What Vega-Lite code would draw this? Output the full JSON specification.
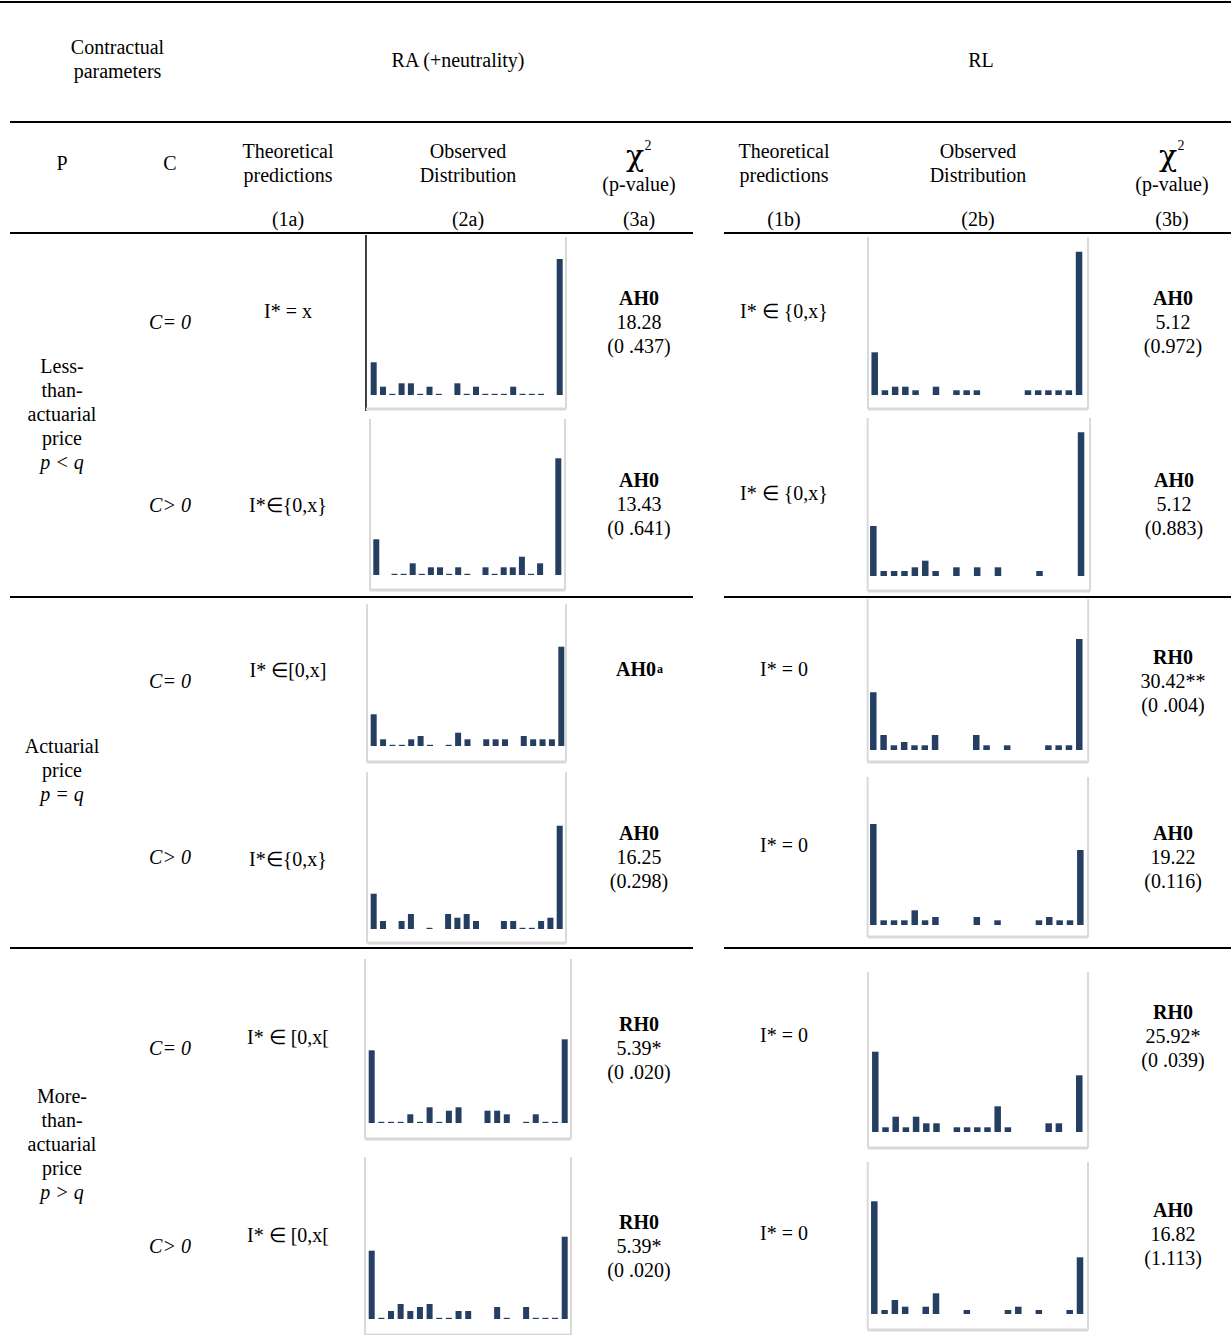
{
"$schema": "https://vega.github.io/schema/vega-lite/v6.json",
"padding": 0,
"autosize": {"type": "pad"},
"background": "white",
"data": {"values": [{}]},
"config": {"view": {"stroke": null}, "concat": {"spacing": 0}, "scale": {"continuousPadding": 0}, "text": {"font": "Liberation Serif", "fontSize": 20, "color": "#000", "baseline": "middle", "align": "center", "lineHeight": 24}},
"spacing": 0,
"vconcat": [
{"width": 1231, "height": 1, "mark": {"type": "text", "text": "", "fontSize": 0}, "encoding": {}},
{"width": 1231, "height": 2, "view": {"fill": "#000"}, "mark": {"type": "text", "text": "", "fontSize": 0}, "encoding": {}},
{"hconcat": [
 {"width": 235, "height": 118, "mark": {"type": "text", "text": ["Contractual", "parameters"], "dy": -14}, "encoding": {}},
 {"width": 446, "height": 118, "mark": {"type": "text", "text": "RA (+neutrality)", "dy": -1}, "encoding": {}},
 {"width": 50, "height": 118, "mark": {"type": "text", "text": "", "fontSize": 0}, "encoding": {}},
 {"width": 500, "height": 118, "mark": {"type": "text", "text": "RL", "dy": -1}, "encoding": {}}
], "spacing": 0},
{"hconcat": [
 {"width": 10, "height": 2, "mark": {"type": "text", "text": "", "fontSize": 0}, "encoding": {}},
 {"width": 1221, "height": 2, "view": {"fill": "#000"}, "mark": {"type": "text", "text": "", "fontSize": 0}, "encoding": {}}
], "spacing": 0},
{"hconcat": [
 {"width": 124, "height": 82, "mark": {"type": "text", "text": "P"}, "encoding": {}},
 {"width": 92, "height": 82, "mark": {"type": "text", "text": "C"}, "encoding": {}},
 {"width": 144, "height": 82, "mark": {"type": "text", "text": ["Theoretical", "predictions"], "dy": -12}, "encoding": {}},
 {"width": 216, "height": 82, "mark": {"type": "text", "text": ["Observed", "Distribution"], "dy": -12}, "encoding": {}},
 {"width": 126, "height": 82, "layer": [
  {"mark": {"type": "text", "text": "χ", "font": "DejaVu Serif", "fontSize": 30, "dx": -4, "dy": -7}, "encoding": {}},
  {"mark": {"type": "text", "text": "2", "fontSize": 14, "dx": 9, "dy": -18}, "encoding": {}},
  {"mark": {"type": "text", "text": "(p-value)", "dy": 21}, "encoding": {}}
 ]},
 {"width": 164, "height": 82, "mark": {"type": "text", "text": ["Theoretical", "predictions"], "dy": -12}, "encoding": {}},
 {"width": 224, "height": 82, "mark": {"type": "text", "text": ["Observed", "Distribution"], "dy": -12}, "encoding": {}},
 {"width": 23, "height": 82, "mark": {"type": "text", "text": "", "fontSize": 0}, "encoding": {}},
 {"width": 118, "height": 82, "layer": [
  {"mark": {"type": "text", "text": "χ", "font": "DejaVu Serif", "fontSize": 30, "dx": -4, "dy": -7}, "encoding": {}},
  {"mark": {"type": "text", "text": "2", "fontSize": 14, "dx": 9, "dy": -18}, "encoding": {}},
  {"mark": {"type": "text", "text": "(p-value)", "dy": 21}, "encoding": {}}
 ]}
], "spacing": 0},
{"hconcat": [
 {"width": 124, "height": 27, "mark": {"type": "text", "text": "", "fontSize": 0}, "encoding": {}},
 {"width": 92, "height": 27, "mark": {"type": "text", "text": "", "fontSize": 0}, "encoding": {}},
 {"width": 144, "height": 27, "mark": {"type": "text", "text": "(1a)", "dy": 1}, "encoding": {}},
 {"width": 216, "height": 27, "mark": {"type": "text", "text": "(2a)", "dy": 1}, "encoding": {}},
 {"width": 126, "height": 27, "mark": {"type": "text", "text": "(3a)", "dy": 1}, "encoding": {}},
 {"width": 164, "height": 27, "mark": {"type": "text", "text": "(1b)", "dy": 1}, "encoding": {}},
 {"width": 224, "height": 27, "mark": {"type": "text", "text": "(2b)", "dy": 1}, "encoding": {}},
 {"width": 23, "height": 27, "mark": {"type": "text", "text": "", "fontSize": 0}, "encoding": {}},
 {"width": 118, "height": 27, "mark": {"type": "text", "text": "(3b)", "dy": 1}, "encoding": {}}
], "spacing": 0},
{"hconcat": [
 {"width": 10, "height": 2, "mark": {"type": "text", "text": "", "fontSize": 0}, "encoding": {}},
 {"width": 683, "height": 2, "view": {"fill": "#000"}, "mark": {"type": "text", "text": "", "fontSize": 0}, "encoding": {}},
 {"width": 31, "height": 2, "mark": {"type": "text", "text": "", "fontSize": 0}, "encoding": {}},
 {"width": 507, "height": 2, "view": {"fill": "#000"}, "mark": {"type": "text", "text": "", "fontSize": 0}, "encoding": {}}
], "spacing": 0},
{"hconcat": [
 {"width": 124, "height": 361, "layer": [
  {"mark": {"type": "text", "text": ["Less-", "than-", "actuarial", "price"], "dy": -48.5}, "encoding": {}},
  {"mark": {"type": "text", "text": "p < q", "fontStyle": "italic", "dy": 47.5}, "encoding": {}}
 ]},
 {"vconcat": [
  {"hconcat": [
   {"width": 92, "height": 180, "mark": {"type": "text", "text": "C= 0", "fontStyle": "italic", "dy": -2}, "encoding": {}},
   {"width": 144, "height": 180, "mark": {"type": "text", "text": "I* = x", "dy": -13}, "encoding": {}},
   {"width": 216, "height": 180, "layer": [
    {"data": {"values": [{"bin": 0, "freq": 32.7}, {"bin": 1, "freq": 8.3}, {"bin": 2, "freq": 1.2}, {"bin": 3, "freq": 11.7}, {"bin": 4, "freq": 11.7}, {"bin": 5, "freq": 1.2}, {"bin": 6, "freq": 8.3}, {"bin": 7, "freq": 1.2}, {"bin": 9, "freq": 11.7}, {"bin": 10, "freq": 1.2}, {"bin": 11, "freq": 8.3}, {"bin": 12, "freq": 1.2}, {"bin": 13, "freq": 1.2}, {"bin": 14, "freq": 1.2}, {"bin": 15, "freq": 8.3}, {"bin": 16, "freq": 1.2}, {"bin": 17, "freq": 1.2}, {"bin": 18, "freq": 1.2}, {"bin": 20, "freq": 136}]},
     "mark": {"type": "bar", "orient": "vertical", "size": 6, "color": "#243f62"},
     "encoding": {"x": {"field": "bin", "type": "quantitative", "scale": {"domain": [-1.473, 21.753], "nice": false, "padding": 0}, "axis": null}, "y": {"field": "freq", "type": "quantitative", "scale": {"domain": [-20, 160], "nice": false, "padding": 0}, "axis": null}}},
    {"mark": {"type": "rule", "color": "#000", "strokeWidth": 1.5}, "encoding": {"x": {"datum": -0.83, "type": "quantitative"}, "y": {"datum": -16, "type": "quantitative"}, "y2": {"datum": 160}}},
    {"mark": {"type": "rule", "color": "#d9d9d9", "strokeWidth": 2}, "encoding": {"x": {"datum": 20.68, "type": "quantitative"}, "y": {"datum": -14, "type": "quantitative"}, "y2": {"datum": 158}}},
    {"mark": {"type": "rule", "color": "#d9d9d9", "strokeWidth": 3}, "encoding": {"x": {"datum": -0.83, "type": "quantitative"}, "x2": {"datum": 20.68}, "y": {"datum": -14, "type": "quantitative"}}}
   ]},
   {"width": 126, "height": 180, "layer": [
    {"mark": {"type": "text", "text": "AH0", "fontWeight": "bold", "dy": -26}, "encoding": {}},
    {"mark": {"type": "text", "text": "18.28", "dy": -2}, "encoding": {}},
    {"mark": {"type": "text", "text": "(0 .437)", "dy": 22}, "encoding": {}}
   ]},
   {"width": 164, "height": 180, "mark": {"type": "text", "text": "I* ∈ {0,x}", "dy": -13}, "encoding": {}},
   {"width": 224, "height": 180, "layer": [
    {"data": {"values": [{"bin": 0, "freq": 42.7}, {"bin": 1, "freq": 4.7}, {"bin": 2, "freq": 8.3}, {"bin": 3, "freq": 8.3}, {"bin": 4, "freq": 4.7}, {"bin": 6, "freq": 8.3}, {"bin": 8, "freq": 4.7}, {"bin": 9, "freq": 4.7}, {"bin": 10, "freq": 4.7}, {"bin": 15, "freq": 4.7}, {"bin": 16, "freq": 4.7}, {"bin": 17, "freq": 4.7}, {"bin": 18, "freq": 4.7}, {"bin": 19, "freq": 4.7}, {"bin": 20, "freq": 143.3}]},
     "mark": {"type": "bar", "orient": "vertical", "size": 6.5, "color": "#243f62"},
     "encoding": {"x": {"field": "bin", "type": "quantitative", "scale": {"domain": [-0.754, 21.17], "nice": false, "padding": 0}, "axis": null}, "y": {"field": "freq", "type": "quantitative", "scale": {"domain": [-20, 160], "nice": false, "padding": 0}, "axis": null}}},
    {"mark": {"type": "rule", "color": "#d9d9d9", "strokeWidth": 2}, "encoding": {"x": {"datum": -0.656, "type": "quantitative"}, "y": {"datum": -14, "type": "quantitative"}, "y2": {"datum": 158}}},
    {"mark": {"type": "rule", "color": "#d9d9d9", "strokeWidth": 2}, "encoding": {"x": {"datum": 20.88, "type": "quantitative"}, "y": {"datum": -14, "type": "quantitative"}, "y2": {"datum": 158}}},
    {"mark": {"type": "rule", "color": "#d9d9d9", "strokeWidth": 3}, "encoding": {"x": {"datum": -0.656, "type": "quantitative"}, "x2": {"datum": 20.88}, "y": {"datum": -14, "type": "quantitative"}}}
   ]},
   {"width": 23, "height": 180, "mark": {"type": "text", "text": "", "fontSize": 0}, "encoding": {}},
   {"width": 118, "height": 180, "layer": [
    {"mark": {"type": "text", "text": "AH0", "fontWeight": "bold", "dy": -26}, "encoding": {}},
    {"mark": {"type": "text", "text": "5.12", "dy": -2}, "encoding": {}},
    {"mark": {"type": "text", "text": "(0.972)", "dy": 22}, "encoding": {}}
   ]}
  ], "spacing": 0},
  {"hconcat": [
   {"width": 92, "height": 181, "mark": {"type": "text", "text": "C> 0", "fontStyle": "italic", "dy": 0}, "encoding": {}},
   {"width": 144, "height": 181, "mark": {"type": "text", "text": "I*∈{0,x}", "dy": 0}, "encoding": {}},
   {"width": 216, "height": 181, "layer": [
    {"data": {"values": [{"bin": 0, "freq": 35.7}, {"bin": 2, "freq": 1.2}, {"bin": 3, "freq": 1.2}, {"bin": 4, "freq": 11.7}, {"bin": 5, "freq": 1.2}, {"bin": 6, "freq": 7.7}, {"bin": 7, "freq": 7.7}, {"bin": 8, "freq": 1.2}, {"bin": 9, "freq": 7.7}, {"bin": 10, "freq": 1.2}, {"bin": 12, "freq": 7.7}, {"bin": 13, "freq": 1.2}, {"bin": 14, "freq": 7.7}, {"bin": 15, "freq": 7.7}, {"bin": 16, "freq": 18.3}, {"bin": 17, "freq": 1.2}, {"bin": 18, "freq": 11.7}, {"bin": 20, "freq": 116.7}]},
     "mark": {"type": "bar", "orient": "vertical", "size": 6, "color": "#243f62"},
     "encoding": {"x": {"field": "bin", "type": "quantitative", "scale": {"domain": [-1.79, 21.945], "nice": false, "padding": 0}, "axis": null}, "y": {"field": "freq", "type": "quantitative", "scale": {"domain": [-21, 160], "nice": false, "padding": 0}, "axis": null}}},
    {"mark": {"type": "rule", "color": "#d9d9d9", "strokeWidth": 2}, "encoding": {"x": {"datum": -0.69, "type": "quantitative"}, "y": {"datum": -15, "type": "quantitative"}, "y2": {"datum": 156}}},
    {"mark": {"type": "rule", "color": "#d9d9d9", "strokeWidth": 2}, "encoding": {"x": {"datum": 20.74, "type": "quantitative"}, "y": {"datum": -15, "type": "quantitative"}, "y2": {"datum": 156}}},
    {"mark": {"type": "rule", "color": "#d9d9d9", "strokeWidth": 3}, "encoding": {"x": {"datum": -0.69, "type": "quantitative"}, "x2": {"datum": 20.74}, "y": {"datum": -15, "type": "quantitative"}}}
   ]},
   {"width": 126, "height": 181, "layer": [
    {"mark": {"type": "text", "text": "AH0", "fontWeight": "bold", "dy": -24.5}, "encoding": {}},
    {"mark": {"type": "text", "text": "13.43", "dy": -0.5}, "encoding": {}},
    {"mark": {"type": "text", "text": "(0 .641)", "dy": 23.5}, "encoding": {}}
   ]},
   {"width": 164, "height": 181, "mark": {"type": "text", "text": "I* ∈ {0,x}", "dy": -11.5}, "encoding": {}},
   {"width": 224, "height": 181, "layer": [
    {"data": {"values": [{"bin": 0, "freq": 50}, {"bin": 1, "freq": 5}, {"bin": 2, "freq": 5}, {"bin": 3, "freq": 5}, {"bin": 4, "freq": 8.7}, {"bin": 5, "freq": 15.3}, {"bin": 6, "freq": 5}, {"bin": 8, "freq": 8.7}, {"bin": 10, "freq": 8.7}, {"bin": 12, "freq": 8.7}, {"bin": 16, "freq": 5}, {"bin": 20, "freq": 143.7}]},
     "mark": {"type": "bar", "orient": "vertical", "size": 6.5, "color": "#243f62"},
     "encoding": {"x": {"field": "bin", "type": "quantitative", "scale": {"domain": [-0.61, 20.96], "nice": false, "padding": 0}, "axis": null}, "y": {"field": "freq", "type": "quantitative", "scale": {"domain": [-20, 161], "nice": false, "padding": 0}, "axis": null}}},
    {"mark": {"type": "rule", "color": "#d9d9d9", "strokeWidth": 2}, "encoding": {"x": {"datum": -0.55, "type": "quantitative"}, "y": {"datum": -15, "type": "quantitative"}, "y2": {"datum": 158}}},
    {"mark": {"type": "rule", "color": "#d9d9d9", "strokeWidth": 2}, "encoding": {"x": {"datum": 20.87, "type": "quantitative"}, "y": {"datum": -15, "type": "quantitative"}, "y2": {"datum": 158}}},
    {"mark": {"type": "rule", "color": "#d9d9d9", "strokeWidth": 3}, "encoding": {"x": {"datum": -0.55, "type": "quantitative"}, "x2": {"datum": 20.87}, "y": {"datum": -15, "type": "quantitative"}}}
   ]},
   {"width": 23, "height": 181, "mark": {"type": "text", "text": "", "fontSize": 0}, "encoding": {}},
   {"width": 118, "height": 181, "layer": [
    {"mark": {"type": "text", "text": "AH0", "fontWeight": "bold", "dy": -24.5}, "encoding": {}},
    {"mark": {"type": "text", "text": "5.12", "dy": -0.5}, "encoding": {}},
    {"mark": {"type": "text", "text": "(0.883)", "dy": 23.5}, "encoding": {}}
   ]}
  ], "spacing": 0}
 ], "spacing": 0}
], "spacing": 0},
{"hconcat": [
 {"width": 10, "height": 2, "mark": {"type": "text", "text": "", "fontSize": 0}, "encoding": {}},
 {"width": 683, "height": 2, "view": {"fill": "#000"}, "mark": {"type": "text", "text": "", "fontSize": 0}, "encoding": {}},
 {"width": 31, "height": 2, "mark": {"type": "text", "text": "", "fontSize": 0}, "encoding": {}},
 {"width": 507, "height": 2, "view": {"fill": "#000"}, "mark": {"type": "text", "text": "", "fontSize": 0}, "encoding": {}}
], "spacing": 0},
{"hconcat": [
 {"width": 124, "height": 348, "layer": [
  {"mark": {"type": "text", "text": ["Actuarial", "price"], "dy": -25}, "encoding": {}},
  {"mark": {"type": "text", "text": "p = q", "fontStyle": "italic", "dy": 23}, "encoding": {}}
 ]},
 {"vconcat": [
  {"hconcat": [
   {"width": 92, "height": 173, "mark": {"type": "text", "text": "C= 0", "fontStyle": "italic", "dy": -2.5}, "encoding": {}},
   {"width": 144, "height": 173, "mark": {"type": "text", "text": "I* ∈[0,x]", "dy": -13.5}, "encoding": {}},
   {"width": 216, "height": 173, "layer": [
    {"data": {"values": [{"bin": 0, "freq": 31.7}, {"bin": 1, "freq": 6.7}, {"bin": 2, "freq": 1.2}, {"bin": 3, "freq": 1.2}, {"bin": 4, "freq": 6.7}, {"bin": 5, "freq": 10}, {"bin": 6, "freq": 1.2}, {"bin": 8, "freq": 1.2}, {"bin": 9, "freq": 13.3}, {"bin": 10, "freq": 6.7}, {"bin": 12, "freq": 6.7}, {"bin": 13, "freq": 6.7}, {"bin": 14, "freq": 6.7}, {"bin": 16, "freq": 10}, {"bin": 17, "freq": 6.7}, {"bin": 18, "freq": 6.7}, {"bin": 19, "freq": 6.7}, {"bin": 20, "freq": 99.3}]},
     "mark": {"type": "bar", "orient": "vertical", "size": 6, "color": "#243f62"},
     "encoding": {"x": {"field": "bin", "type": "quantitative", "scale": {"domain": [-1.46, 21.567], "nice": false, "padding": 0}, "axis": null}, "y": {"field": "freq", "type": "quantitative", "scale": {"domain": [-25, 148], "nice": false, "padding": 0}, "axis": null}}},
    {"mark": {"type": "rule", "color": "#d9d9d9", "strokeWidth": 2}, "encoding": {"x": {"datum": -0.71, "type": "quantitative"}, "y": {"datum": -16, "type": "quantitative"}, "y2": {"datum": 142}}},
    {"mark": {"type": "rule", "color": "#d9d9d9", "strokeWidth": 2}, "encoding": {"x": {"datum": 20.5, "type": "quantitative"}, "y": {"datum": -16, "type": "quantitative"}, "y2": {"datum": 142}}},
    {"mark": {"type": "rule", "color": "#d9d9d9", "strokeWidth": 3}, "encoding": {"x": {"datum": -0.71, "type": "quantitative"}, "x2": {"datum": 20.5}, "y": {"datum": -16, "type": "quantitative"}}}
   ]},
   {"width": 126, "height": 173, "layer": [
    {"mark": {"type": "text", "text": "AH0", "fontWeight": "bold", "dx": -3, "dy": -14.5}, "encoding": {}},
    {"mark": {"type": "text", "text": "a", "fontWeight": "bold", "fontSize": 12, "dx": 21, "dy": -16}, "encoding": {}}
   ]},
   {"width": 164, "height": 173, "mark": {"type": "text", "text": "I* = 0", "dy": -14.5}, "encoding": {}},
   {"width": 224, "height": 173, "layer": [
    {"data": {"values": [{"bin": 0, "freq": 57.7}, {"bin": 1, "freq": 15}, {"bin": 2, "freq": 4.7}, {"bin": 3, "freq": 8}, {"bin": 4, "freq": 4.7}, {"bin": 5, "freq": 4.7}, {"bin": 6, "freq": 15}, {"bin": 10, "freq": 15}, {"bin": 11, "freq": 4.7}, {"bin": 13, "freq": 4.7}, {"bin": 17, "freq": 4.7}, {"bin": 18, "freq": 4.7}, {"bin": 19, "freq": 4.7}, {"bin": 20, "freq": 111}]},
     "mark": {"type": "bar", "orient": "vertical", "size": 6.5, "color": "#243f62"},
     "encoding": {"x": {"field": "bin", "type": "quantitative", "scale": {"domain": [-0.61, 21.14], "nice": false, "padding": 0}, "axis": null}, "y": {"field": "freq", "type": "quantitative", "scale": {"domain": [-21, 152], "nice": false, "padding": 0}, "axis": null}}},
    {"mark": {"type": "rule", "color": "#d9d9d9", "strokeWidth": 2}, "encoding": {"x": {"datum": -0.55, "type": "quantitative"}, "y": {"datum": -12, "type": "quantitative"}, "y2": {"datum": 151}}},
    {"mark": {"type": "rule", "color": "#d9d9d9", "strokeWidth": 2}, "encoding": {"x": {"datum": 20.87, "type": "quantitative"}, "y": {"datum": -12, "type": "quantitative"}, "y2": {"datum": 151}}},
    {"mark": {"type": "rule", "color": "#d9d9d9", "strokeWidth": 3}, "encoding": {"x": {"datum": -0.55, "type": "quantitative"}, "x2": {"datum": 20.87}, "y": {"datum": -12, "type": "quantitative"}}}
   ]},
   {"width": 23, "height": 173, "mark": {"type": "text", "text": "", "fontSize": 0}, "encoding": {}},
   {"width": 118, "height": 173, "layer": [
    {"mark": {"type": "text", "text": "RH0", "fontWeight": "bold", "dy": -26.5}, "encoding": {}},
    {"mark": {"type": "text", "text": "30.42**", "dy": -2.5}, "encoding": {}},
    {"mark": {"type": "text", "text": "(0 .004)", "dy": 21.5}, "encoding": {}}
   ]}
  ], "spacing": 0},
  {"hconcat": [
   {"width": 92, "height": 175, "mark": {"type": "text", "text": "C> 0", "fontStyle": "italic", "dy": -1.5}, "encoding": {}},
   {"width": 144, "height": 175, "mark": {"type": "text", "text": "I*∈{0,x}", "dy": 0.5}, "encoding": {}},
   {"width": 216, "height": 175, "layer": [
    {"data": {"values": [{"bin": 0, "freq": 35.3}, {"bin": 1, "freq": 8}, {"bin": 3, "freq": 8}, {"bin": 4, "freq": 15}, {"bin": 6, "freq": 1.2}, {"bin": 8, "freq": 15}, {"bin": 9, "freq": 11.3}, {"bin": 10, "freq": 15}, {"bin": 11, "freq": 8}, {"bin": 14, "freq": 8}, {"bin": 15, "freq": 8}, {"bin": 16, "freq": 1.2}, {"bin": 17, "freq": 1.2}, {"bin": 18, "freq": 8}, {"bin": 19, "freq": 11.3}, {"bin": 20, "freq": 103.3}]},
     "mark": {"type": "bar", "orient": "vertical", "size": 6, "color": "#243f62"},
     "encoding": {"x": {"field": "bin", "type": "quantitative", "scale": {"domain": [-1.473, 21.753], "nice": false, "padding": 0}, "axis": null}, "y": {"field": "freq", "type": "quantitative", "scale": {"domain": [-18, 157], "nice": false, "padding": 0}, "axis": null}}},
    {"mark": {"type": "rule", "color": "#d9d9d9", "strokeWidth": 2}, "encoding": {"x": {"datum": -0.72, "type": "quantitative"}, "y": {"datum": -14, "type": "quantitative"}, "y2": {"datum": 157}}},
    {"mark": {"type": "rule", "color": "#d9d9d9", "strokeWidth": 2}, "encoding": {"x": {"datum": 20.68, "type": "quantitative"}, "y": {"datum": -14, "type": "quantitative"}, "y2": {"datum": 157}}},
    {"mark": {"type": "rule", "color": "#d9d9d9", "strokeWidth": 3}, "encoding": {"x": {"datum": -0.72, "type": "quantitative"}, "x2": {"datum": 20.68}, "y": {"datum": -14, "type": "quantitative"}}}
   ]},
   {"width": 126, "height": 175, "layer": [
    {"mark": {"type": "text", "text": "AH0", "fontWeight": "bold", "dy": -25.5}, "encoding": {}},
    {"mark": {"type": "text", "text": "16.25", "dy": -1.5}, "encoding": {}},
    {"mark": {"type": "text", "text": "(0.298)", "dy": 22.5}, "encoding": {}}
   ]},
   {"width": 164, "height": 175, "mark": {"type": "text", "text": "I* = 0", "dy": -13.5}, "encoding": {}},
   {"width": 224, "height": 175, "layer": [
    {"data": {"values": [{"bin": 0, "freq": 101}, {"bin": 1, "freq": 4.7}, {"bin": 2, "freq": 4.7}, {"bin": 3, "freq": 4.7}, {"bin": 4, "freq": 14.7}, {"bin": 5, "freq": 4.7}, {"bin": 6, "freq": 8}, {"bin": 10, "freq": 8}, {"bin": 12, "freq": 4.7}, {"bin": 16, "freq": 4.7}, {"bin": 17, "freq": 8}, {"bin": 18, "freq": 4.7}, {"bin": 19, "freq": 4.7}, {"bin": 20, "freq": 75}]},
     "mark": {"type": "bar", "orient": "vertical", "size": 6.5, "color": "#243f62"},
     "encoding": {"x": {"field": "bin", "type": "quantitative", "scale": {"domain": [-0.61, 21.03], "nice": false, "padding": 0}, "axis": null}, "y": {"field": "freq", "type": "quantitative", "scale": {"domain": [-22, 153], "nice": false, "padding": 0}, "axis": null}}},
    {"mark": {"type": "rule", "color": "#d9d9d9", "strokeWidth": 2}, "encoding": {"x": {"datum": -0.55, "type": "quantitative"}, "y": {"datum": -12, "type": "quantitative"}, "y2": {"datum": 148}}},
    {"mark": {"type": "rule", "color": "#d9d9d9", "strokeWidth": 2}, "encoding": {"x": {"datum": 20.75, "type": "quantitative"}, "y": {"datum": -12, "type": "quantitative"}, "y2": {"datum": 148}}},
    {"mark": {"type": "rule", "color": "#d9d9d9", "strokeWidth": 3}, "encoding": {"x": {"datum": -0.55, "type": "quantitative"}, "x2": {"datum": 20.75}, "y": {"datum": -12, "type": "quantitative"}}}
   ]},
   {"width": 23, "height": 175, "mark": {"type": "text", "text": "", "fontSize": 0}, "encoding": {}},
   {"width": 118, "height": 175, "layer": [
    {"mark": {"type": "text", "text": "AH0", "fontWeight": "bold", "dy": -25.5}, "encoding": {}},
    {"mark": {"type": "text", "text": "19.22", "dy": -1.5}, "encoding": {}},
    {"mark": {"type": "text", "text": "(0.116)", "dy": 22.5}, "encoding": {}}
   ]}
  ], "spacing": 0}
 ], "spacing": 0}
], "spacing": 0},
{"hconcat": [
 {"width": 10, "height": 2, "mark": {"type": "text", "text": "", "fontSize": 0}, "encoding": {}},
 {"width": 683, "height": 2, "view": {"fill": "#000"}, "mark": {"type": "text", "text": "", "fontSize": 0}, "encoding": {}},
 {"width": 31, "height": 2, "mark": {"type": "text", "text": "", "fontSize": 0}, "encoding": {}},
 {"width": 507, "height": 2, "view": {"fill": "#000"}, "mark": {"type": "text", "text": "", "fontSize": 0}, "encoding": {}}
], "spacing": 0},
{"hconcat": [
 {"width": 124, "height": 388, "layer": [
  {"mark": {"type": "text", "text": ["More-", "than-", "actuarial", "price"], "dy": -46}, "encoding": {}},
  {"mark": {"type": "text", "text": "p > q", "fontStyle": "italic", "dy": 50}, "encoding": {}}
 ]},
 {"vconcat": [
  {"hconcat": [
   {"width": 92, "height": 203, "mark": {"type": "text", "text": "C= 0", "fontStyle": "italic", "dy": -1.5}, "encoding": {}},
   {"width": 144, "height": 203, "mark": {"type": "text", "text": "I* ∈ [0,x[", "dy": -12.5}, "encoding": {}},
   {"width": 216, "height": 203, "layer": [
    {"data": {"values": [{"bin": 0, "freq": 72.7}, {"bin": 1, "freq": 1.2}, {"bin": 2, "freq": 1.2}, {"bin": 3, "freq": 1.2}, {"bin": 4, "freq": 8.7}, {"bin": 5, "freq": 1.2}, {"bin": 6, "freq": 15.7}, {"bin": 7, "freq": 1.2}, {"bin": 8, "freq": 12.3}, {"bin": 9, "freq": 15.7}, {"bin": 12, "freq": 12.3}, {"bin": 13, "freq": 12.3}, {"bin": 14, "freq": 8.7}, {"bin": 16, "freq": 1.2}, {"bin": 17, "freq": 8.7}, {"bin": 18, "freq": 1.2}, {"bin": 19, "freq": 1.2}, {"bin": 20, "freq": 83.7}]},
     "mark": {"type": "bar", "orient": "vertical", "size": 6, "color": "#243f62"},
     "encoding": {"x": {"field": "bin", "type": "quantitative", "scale": {"domain": [-1.212, 21.171], "nice": false, "padding": 0}, "axis": null}, "y": {"field": "freq", "type": "quantitative", "scale": {"domain": [-29, 174], "nice": false, "padding": 0}, "axis": null}}},
    {"mark": {"type": "rule", "color": "#d9d9d9", "strokeWidth": 2}, "encoding": {"x": {"datum": -0.69, "type": "quantitative"}, "y": {"datum": -16, "type": "quantitative"}, "y2": {"datum": 164}}},
    {"mark": {"type": "rule", "color": "#d9d9d9", "strokeWidth": 2}, "encoding": {"x": {"datum": 20.65, "type": "quantitative"}, "y": {"datum": -16, "type": "quantitative"}, "y2": {"datum": 164}}},
    {"mark": {"type": "rule", "color": "#d9d9d9", "strokeWidth": 3}, "encoding": {"x": {"datum": -0.69, "type": "quantitative"}, "x2": {"datum": 20.65}, "y": {"datum": -16, "type": "quantitative"}}}
   ]},
   {"width": 126, "height": 203, "layer": [
    {"mark": {"type": "text", "text": "RH0", "fontWeight": "bold", "dy": -25.5}, "encoding": {}},
    {"mark": {"type": "text", "text": "5.39*", "dy": -1.5}, "encoding": {}},
    {"mark": {"type": "text", "text": "(0 .020)", "dy": 22.5}, "encoding": {}}
   ]},
   {"width": 164, "height": 203, "mark": {"type": "text", "text": "I* = 0", "dy": -14.5}, "encoding": {}},
   {"width": 224, "height": 203, "layer": [
    {"data": {"values": [{"bin": 0, "freq": 80.3}, {"bin": 1, "freq": 4.7}, {"bin": 2, "freq": 15.3}, {"bin": 3, "freq": 4.7}, {"bin": 4, "freq": 15.3}, {"bin": 5, "freq": 8.7}, {"bin": 6, "freq": 8.7}, {"bin": 8, "freq": 4.7}, {"bin": 9, "freq": 4.7}, {"bin": 10, "freq": 4.7}, {"bin": 11, "freq": 4.7}, {"bin": 12, "freq": 25.7}, {"bin": 13, "freq": 4.7}, {"bin": 17, "freq": 8.7}, {"bin": 18, "freq": 8.7}, {"bin": 20, "freq": 56.7}]},
     "mark": {"type": "bar", "orient": "vertical", "size": 6.5, "color": "#243f62"},
     "encoding": {"x": {"field": "bin", "type": "quantitative", "scale": {"domain": [-0.814, 21.15], "nice": false, "padding": 0}, "axis": null}, "y": {"field": "freq", "type": "quantitative", "scale": {"domain": [-20, 183], "nice": false, "padding": 0}, "axis": null}}},
    {"mark": {"type": "rule", "color": "#d9d9d9", "strokeWidth": 2}, "encoding": {"x": {"datum": -0.72, "type": "quantitative"}, "y": {"datum": -16, "type": "quantitative"}, "y2": {"datum": 160}}},
    {"mark": {"type": "rule", "color": "#d9d9d9", "strokeWidth": 2}, "encoding": {"x": {"datum": 20.86, "type": "quantitative"}, "y": {"datum": -16, "type": "quantitative"}, "y2": {"datum": 160}}},
    {"mark": {"type": "rule", "color": "#d9d9d9", "strokeWidth": 3}, "encoding": {"x": {"datum": -0.72, "type": "quantitative"}, "x2": {"datum": 20.86}, "y": {"datum": -16, "type": "quantitative"}}}
   ]},
   {"width": 23, "height": 203, "mark": {"type": "text", "text": "", "fontSize": 0}, "encoding": {}},
   {"width": 118, "height": 203, "layer": [
    {"mark": {"type": "text", "text": "RH0", "fontWeight": "bold", "dy": -37.5}, "encoding": {}},
    {"mark": {"type": "text", "text": "25.92*", "dy": -13.5}, "encoding": {}},
    {"mark": {"type": "text", "text": "(0 .039)", "dy": 10.5}, "encoding": {}}
   ]}
  ], "spacing": 0},
  {"hconcat": [
   {"width": 92, "height": 185, "mark": {"type": "text", "text": "C> 0", "fontStyle": "italic", "dy": 2.5}, "encoding": {}},
   {"width": 144, "height": 185, "mark": {"type": "text", "text": "I* ∈ [0,x[", "dy": -8.5}, "encoding": {}},
   {"width": 216, "height": 185, "layer": [
    {"data": {"values": [{"bin": 0, "freq": 68.3}, {"bin": 1, "freq": 1.2}, {"bin": 2, "freq": 8}, {"bin": 3, "freq": 15}, {"bin": 4, "freq": 8}, {"bin": 5, "freq": 12}, {"bin": 6, "freq": 15}, {"bin": 7, "freq": 1.2}, {"bin": 8, "freq": 1.2}, {"bin": 9, "freq": 8}, {"bin": 10, "freq": 8}, {"bin": 13, "freq": 12}, {"bin": 14, "freq": 1.2}, {"bin": 16, "freq": 12}, {"bin": 17, "freq": 1.2}, {"bin": 18, "freq": 1.2}, {"bin": 19, "freq": 1.2}, {"bin": 20, "freq": 82.3}]},
     "mark": {"type": "bar", "orient": "vertical", "size": 6, "color": "#243f62"},
     "encoding": {"x": {"field": "bin", "type": "quantitative", "scale": {"domain": [-1.212, 21.171], "nice": false, "padding": 0}, "axis": null}, "y": {"field": "freq", "type": "quantitative", "scale": {"domain": [-18, 167], "nice": false, "padding": 0}, "axis": null}}},
    {"mark": {"type": "rule", "color": "#d9d9d9", "strokeWidth": 2}, "encoding": {"x": {"datum": -0.69, "type": "quantitative"}, "y": {"datum": -16, "type": "quantitative"}, "y2": {"datum": 162}}},
    {"mark": {"type": "rule", "color": "#d9d9d9", "strokeWidth": 2}, "encoding": {"x": {"datum": 20.65, "type": "quantitative"}, "y": {"datum": -16, "type": "quantitative"}, "y2": {"datum": 162}}},
    {"mark": {"type": "rule", "color": "#d9d9d9", "strokeWidth": 3}, "encoding": {"x": {"datum": -0.69, "type": "quantitative"}, "x2": {"datum": 20.65}, "y": {"datum": -16, "type": "quantitative"}}}
   ]},
   {"width": 126, "height": 185, "layer": [
    {"mark": {"type": "text", "text": "RH0", "fontWeight": "bold", "dy": -21.5}, "encoding": {}},
    {"mark": {"type": "text", "text": "5.39*", "dy": 2.5}, "encoding": {}},
    {"mark": {"type": "text", "text": "(0 .020)", "dy": 26.5}, "encoding": {}}
   ]},
   {"width": 164, "height": 185, "mark": {"type": "text", "text": "I* = 0", "dy": -10.5}, "encoding": {}},
   {"width": 224, "height": 185, "layer": [
    {"data": {"values": [{"bin": 0, "freq": 112.7}, {"bin": 1, "freq": 4}, {"bin": 2, "freq": 14}, {"bin": 3, "freq": 7.3}, {"bin": 5, "freq": 7.3}, {"bin": 6, "freq": 20.7}, {"bin": 9, "freq": 4}, {"bin": 13, "freq": 4}, {"bin": 14, "freq": 7.3}, {"bin": 16, "freq": 4}, {"bin": 19, "freq": 4}, {"bin": 20, "freq": 56.7}]},
     "mark": {"type": "bar", "orient": "vertical", "size": 6.5, "color": "#243f62"},
     "encoding": {"x": {"field": "bin", "type": "quantitative", "scale": {"domain": [-0.71, 21.07], "nice": false, "padding": 0}, "axis": null}, "y": {"field": "freq", "type": "quantitative", "scale": {"domain": [-23, 162], "nice": false, "padding": 0}, "axis": null}}},
    {"mark": {"type": "rule", "color": "#d9d9d9", "strokeWidth": 2}, "encoding": {"x": {"datum": -0.64, "type": "quantitative"}, "y": {"datum": -16, "type": "quantitative"}, "y2": {"datum": 152}}},
    {"mark": {"type": "rule", "color": "#d9d9d9", "strokeWidth": 2}, "encoding": {"x": {"datum": 20.78, "type": "quantitative"}, "y": {"datum": -16, "type": "quantitative"}, "y2": {"datum": 152}}},
    {"mark": {"type": "rule", "color": "#d9d9d9", "strokeWidth": 3}, "encoding": {"x": {"datum": -0.64, "type": "quantitative"}, "x2": {"datum": 20.78}, "y": {"datum": -16, "type": "quantitative"}}}
   ]},
   {"width": 23, "height": 185, "mark": {"type": "text", "text": "", "fontSize": 0}, "encoding": {}},
   {"width": 118, "height": 185, "layer": [
    {"mark": {"type": "text", "text": "AH0", "fontWeight": "bold", "dy": -33.5}, "encoding": {}},
    {"mark": {"type": "text", "text": "16.82", "dy": -9.5}, "encoding": {}},
    {"mark": {"type": "text", "text": "(1.113)", "dy": 14.5}, "encoding": {}}
   ]}
  ], "spacing": 0}
 ], "spacing": 0}
], "spacing": 0}
]
}
